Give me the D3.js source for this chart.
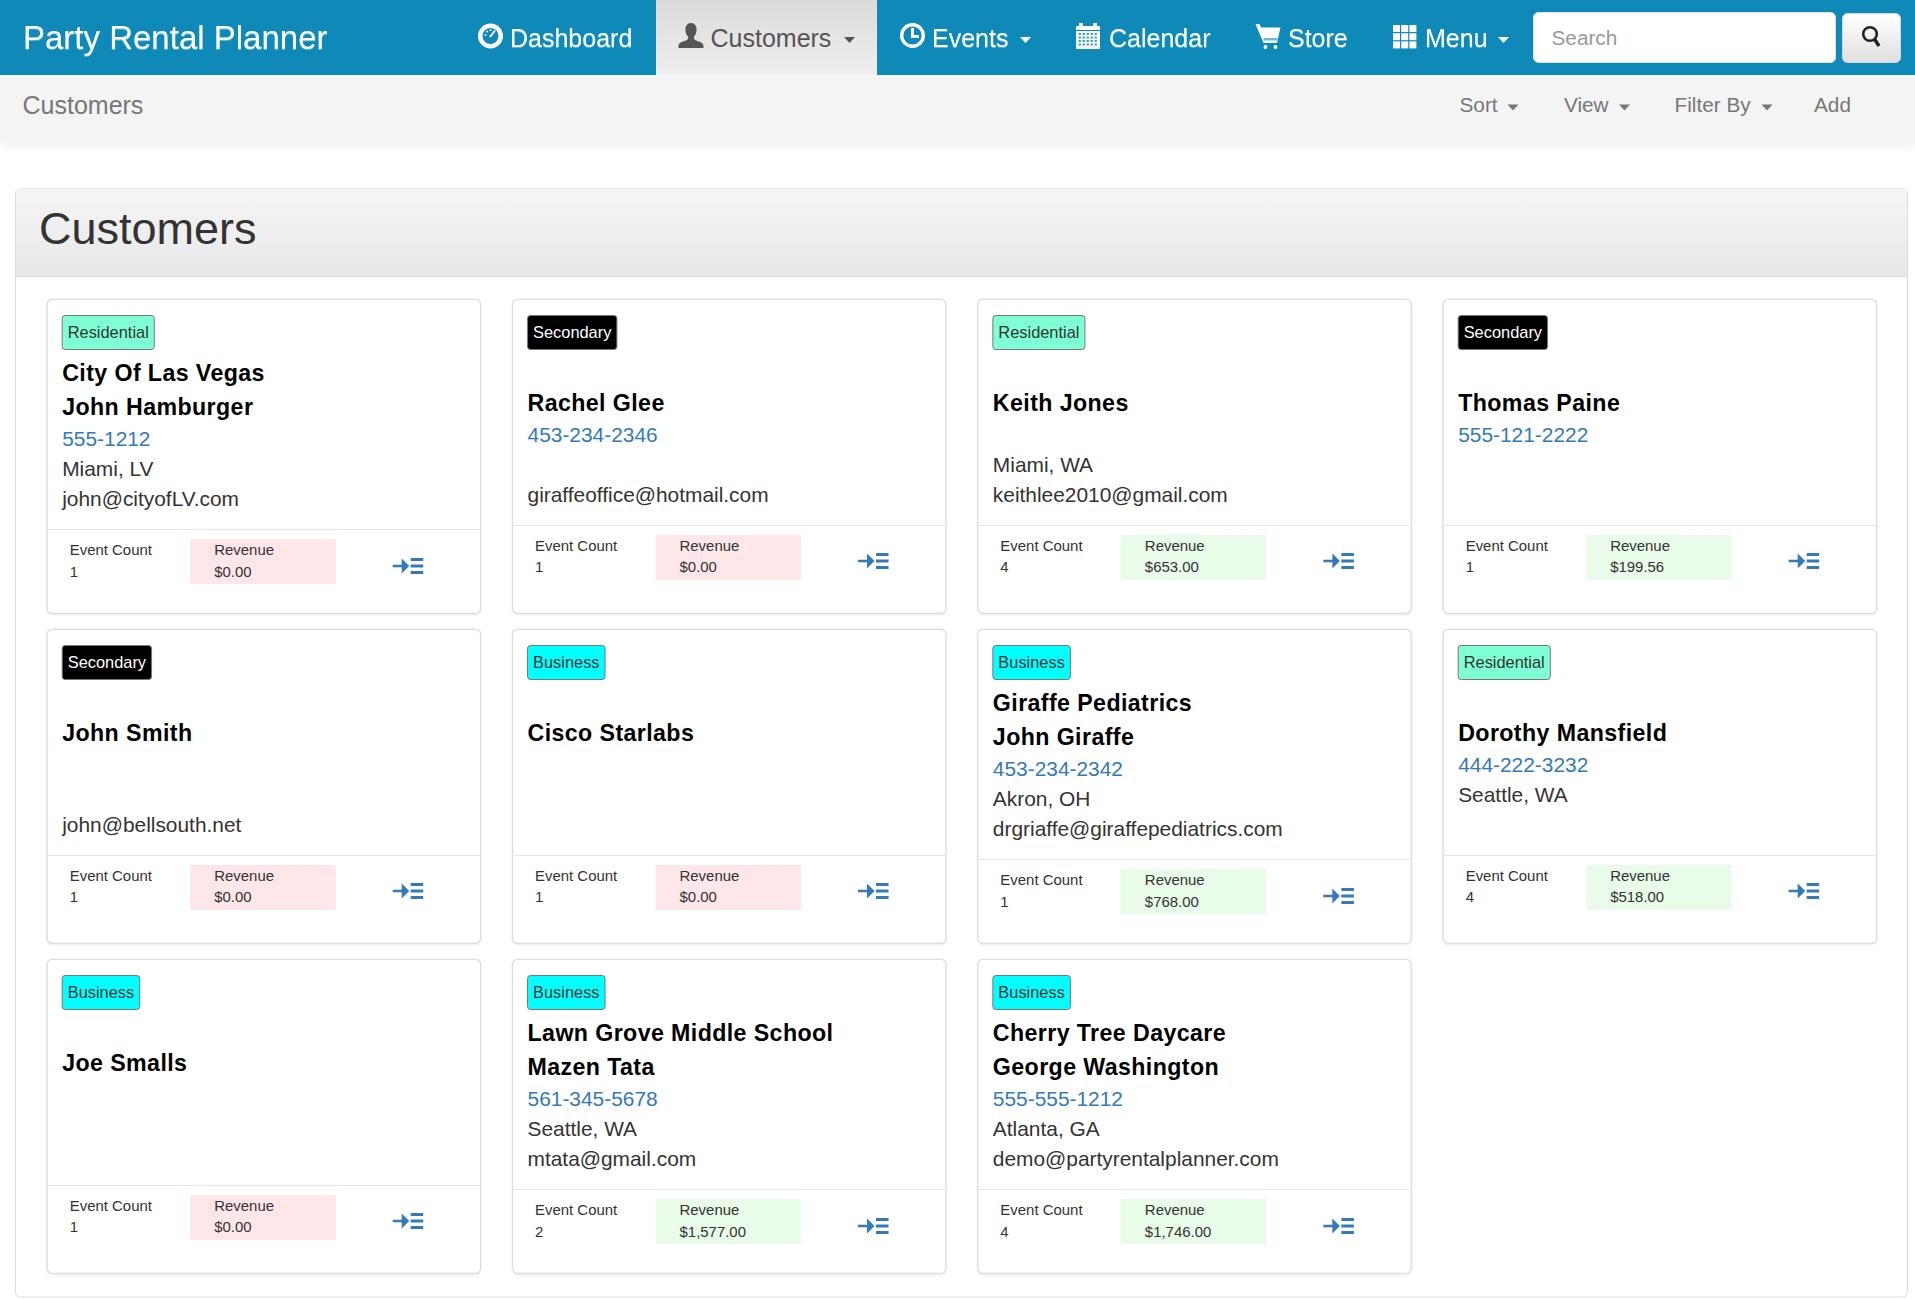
<!DOCTYPE html>
<html>
<head>
<meta charset="utf-8">
<title>Party Rental Planner</title>
<script src="https://cdn.jsdelivr.net/npm/d3@7"></script>
<style>
  html, body { margin: 0; padding: 0; background: #fff; overflow: hidden; }
  svg { display: block; font-family: "Liberation Sans", Arial, sans-serif; }
  .nav-text { filter: drop-shadow(0 1.2px 0 rgba(255,255,255,.35)); }
  .card-box { filter: drop-shadow(0 1px 1px rgba(0,0,0,.09)); }
</style>
</head>
<body>
<div id="page"></div>
<script>
// Customer data, one entry per card
const customerTypes = ['Residential', 'Secondary', 'Residential', 'Secondary', 'Secondary', 'Business', 'Business', 'Residential', 'Business', 'Business', 'Business'];
const companies = ['City Of Las Vegas', '', '', '', '', '', 'Giraffe Pediatrics', '', '', 'Lawn Grove Middle School', 'Cherry Tree Daycare'];
const contacts = ['John Hamburger', 'Rachel Glee', 'Keith Jones', 'Thomas Paine', 'John Smith', 'Cisco Starlabs', 'John Giraffe', 'Dorothy Mansfield', 'Joe Smalls', 'Mazen Tata', 'George Washington'];
const phones = ['555-1212', '453-234-2346', '', '555-121-2222', '', '', '453-234-2342', '444-222-3232', '', '561-345-5678', '555-555-1212'];
const cities = ['Miami, LV', '', 'Miami, WA', '', '', '', 'Akron, OH', 'Seattle, WA', '', 'Seattle, WA', 'Atlanta, GA'];
const emails = ['john@cityofLV.com', 'giraffeoffice@hotmail.com', 'keithlee2010@gmail.com', '', 'john@bellsouth.net', '', 'drgriaffe@giraffepediatrics.com', '', '', 'mtata@gmail.com', 'demo@partyrentalplanner.com'];
const eventCounts = [1, 1, 4, 1, 1, 1, 1, 4, 1, 2, 4];
const revenues = [0, 0, 653, 199.56, 0, 0, 768, 518, 0, 1577, 1746];

const navItems = ['Dashboard', 'Customers', 'Events', 'Calendar', 'Store', 'Menu'];
const subNavItems = ['Sort', 'View', 'Filter By', 'Add'];

const PAGE = { width: 1915, height: 1300 };
const COLS = 4;
const ROWS = 3;
const NAV_BLUE = '#0f8ab8';
const typeColor = { Residential: '#7fffd4', Secondary: '#000', Business: '#00ffff' };

const svg = d3.select('#page').append('svg')
  .attr('width', PAGE.width)
  .attr('height', PAGE.height);

const defs = svg.append('defs');

function addGradient(id, from, to) {
  const g = defs.append('linearGradient').attr('id', id)
    .attr('x1', 0).attr('y1', 0).attr('x2', 0).attr('y2', 1);
  g.append('stop').attr('offset', 0).attr('stop-color', from);
  g.append('stop').attr('offset', 1).attr('stop-color', to);
}
addGradient('headGrad', '#f5f5f5', '#e8e8e8');
addGradient('activeGrad', '#dbdbdb', '#efefef');
addGradient('btnGrad', '#ffffff', '#e0e0e0');

function caret(parent, x, y, color) {
  parent.append('path')
    .attr('d', `M${x},${y}h11l-5.5,6z`)
    .attr('fill', color);
}

// Nav icons, each drawn in a local box starting at (0,0)
const navIcons = {
  Dashboard(g) {
    g.append('circle').attr('cx', 12.5).attr('cy', 13).attr('r', 12.5).attr('fill', '#fff');
    g.append('circle').attr('cx', 12.5).attr('cy', 13).attr('r', 8).attr('fill', NAV_BLUE);
    [[7.5, 12], [9, 8.5], [12.5, 7]].forEach(d => {
      g.append('circle').attr('cx', d[0]).attr('cy', d[1]).attr('r', 1.1).attr('fill', '#cfeaf4');
    });
    g.append('path').attr('d', 'M12,14L17,7.500').attr('stroke', '#fff').attr('stroke-width', 2);
  },
  Customers(g) {
    g.append('path')
      .attr('d', 'M12.5,0c3.8,0 5.6,3 5.6,6.5c0,3.5-1.5,6-2.8,7.5c0,2.2 1,3 3,3.7c3,1 6.7,2 6.7,5.3v2h-25v-2c0-3.3 3.7-4.3 6.7-5.3c2-.7 3-1.5 3-3.7c-1.3-1.5-2.8-4-2.8-7.5c0-3.5 1.800-6.500 5.600-6.500z')
      .attr('fill', '#555');
  },
  Events(g) {
    g.append('circle').attr('cx', 12.5).attr('cy', 12.5).attr('r', 10.8).attr('fill', 'none').attr('stroke', '#fff').attr('stroke-width', 3.4);
    g.append('path').attr('d', 'M12.5,5v8.500h6.500').attr('fill', 'none').attr('stroke', '#fff').attr('stroke-width', 3);
  },
  Calendar(g) {
    g.append('rect').attr('x', 0).attr('y', 3).attr('width', 24).attr('height', 23).attr('fill', '#fff');
    g.append('rect').attr('x', 3).attr('y', 0).attr('width', 4).attr('height', 5).attr('fill', '#fff');
    g.append('rect').attr('x', 17).attr('y', 0).attr('width', 4).attr('height', 5).attr('fill', '#fff');
    g.append('rect').attr('x', 0).attr('y', 7).attr('width', 24).attr('height', 1).attr('fill', NAV_BLUE);
    d3.range(4).forEach(r => d3.range(5).forEach(c => {
      g.append('rect').attr('x', 2.5 + c * 4).attr('y', 10 + r * 3.5).attr('width', 2.4).attr('height', 2)
        .attr('fill', NAV_BLUE).attr('opacity', .8);
    }));
  },
  Store(g) {
    g.append('path').attr('d', 'M0,1h4l1.500,3.500h19.500l-3.500,15.500h-13.500z').attr('fill', '#fff');
    g.append('rect').attr('x', 8).attr('y', 15).attr('width', 14).attr('height', 2.500).attr('fill', NAV_BLUE).attr('opacity', .6);
    g.append('circle').attr('cx', 10).attr('cy', 24).attr('r', 1.900).attr('fill', '#fff');
    g.append('circle').attr('cx', 20).attr('cy', 24).attr('r', 1.900).attr('fill', '#fff');
  },
  Menu(g) {
    d3.range(3).forEach(r => d3.range(3).forEach(c => {
      g.append('rect').attr('x', 1 + c * 8.2).attr('y', 2 + r * 8.2).attr('width', 7).attr('height', 7).attr('fill', '#fff');
    }));
  },
};

function drawNavbar() {
  svg.append('rect').attr('x', 0).attr('y', 75).attr('width', PAGE.width).attr('height', 68)
    .attr('fill', '#f4f4f4')
    .style('filter', 'drop-shadow(0 3px 4px rgba(0,0,0,.06))');
  svg.append('rect').attr('width', PAGE.width).attr('height', 75).attr('fill', NAV_BLUE);

  svg.append('text').attr('class', 'nav-text')
    .attr('x', 23).attr('y', 48.500)
    .attr('font-size', 33).attr('fill', '#fff')
    .text('Party Rental Planner');

  // active tab
  svg.append('rect').attr('x', 656).attr('y', 0).attr('width', 221).attr('height', 75)
    .attr('fill', 'url(#activeGrad)');

  const iconX = [478, 678.5, 900, 1076, 1255.5, 1392];
  const textX = [510, 710.5, 932, 1109, 1288, 1425];
  const caretX = [null, 844, 1020, null, null, 1498];

  navItems.forEach((name, i) => {
    const color = name === 'Customers' ? '#555' : '#fff';
    const icon = svg.append('g').attr('transform', `translate(${iconX[i]},23)`);
    navIcons[name](icon);
    svg.append('text').attr('class', name === 'Customers' ? null : 'nav-text')
      .attr('x', textX[i]).attr('y', 47)
      .attr('font-size', 25).attr('fill', color)
      .text(name);
    if (caretX[i] !== null) caret(svg, caretX[i], 37, color);
  });

  // search box
  svg.append('rect').attr('x', 1533.5).attr('y', 12.500).attr('width', 302).attr('height', 50)
    .attr('rx', 5).attr('fill', '#fff').attr('stroke', '#d8e6ec');
  svg.append('text').attr('x', 1551.5).attr('y', 45)
    .attr('font-size', 20.75).attr('fill', '#999').text('Search');
  svg.append('rect').attr('x', 1842.5).attr('y', 13.500).attr('width', 58).attr('height', 49)
    .attr('rx', 5).attr('fill', 'url(#btnGrad)').attr('stroke', '#cfd8dc');
  const glass = svg.append('g').attr('transform', 'translate(1862,26)');
  glass.append('circle').attr('cx', 8).attr('cy', 8).attr('r', 6.800).attr('fill', 'none').attr('stroke', '#222').attr('stroke-width', 2.6);
  glass.append('path').attr('d', 'M12.500,13l4.500,7').attr('stroke', '#222').attr('stroke-width', 3.4);
}

function drawSubNav() {
  svg.append('text').attr('x', 22.5).attr('y', 114)
    .attr('font-size', 25).attr('fill', '#777').text('Customers');

  const itemX = [1459.5, 1564, 1674.5, 1814];
  const caretX = [1507.5, 1619, 1761.5, null];
  subNavItems.forEach((name, i) => {
    svg.append('text').attr('x', itemX[i]).attr('y', 112)
      .attr('font-size', 20.75).attr('fill', '#777').text(name);
    if (caretX[i] !== null) caret(svg, caretX[i], 104.500, '#777');
  });
}

function drawPanel() {
  svg.append('rect').attr('x', 15.500).attr('y', 188.500).attr('width', 1892).attr('height', 1108.500)
    .attr('rx', 5).attr('fill', '#fff').attr('stroke', '#ddd');
  svg.append('path')
    .attr('d', 'M16,276V193a4.500,4.500 0 0 1 4.500-4.500H1902.500a4.500,4.500 0 0 1 4.500,4.500V276z')
    .attr('fill', 'url(#headGrad)');
  svg.append('line').attr('x1', 16).attr('x2', 1907).attr('y1', 276.500).attr('y2', 276.500).attr('stroke', '#ddd');
  svg.append('text').attr('x', 39).attr('y', 243.500)
    .attr('font-size', 45).attr('fill', '#333').text('Customers');
}

function drawCards() {
  const x = d3.scaleBand().domain(d3.range(COLS)).range([46.7, 1876]).paddingInner(32 / 465.3);
  const y = d3.scaleBand().domain(d3.range(ROWS)).range([299, 1273]).paddingInner(16 / 330);
  const money = d3.format('$,.2f');

  const cards = svg.selectAll('.card')
    .data(contacts.map((name, i) => i))
    .join('g')
    .attr('class', 'card')
    .attr('transform', i => `translate(${x(i % COLS)},${y(Math.floor(i / COLS))})`);

  cards.each(function (i) {
    const card = d3.select(this);
    const w = x.bandwidth();
    const h = y.bandwidth();
    const tall = companies[i] !== '';
    const shift = tall ? 0 : -4;
    const valueY = tall ? 48 : 46.5;
    const iconY = tall ? 29 : 28;

    card.append('rect').attr('class', 'card-box')
      .attr('x', .5).attr('y', .3)
      .attr('width', w).attr('height', h).attr('rx', 5)
      .attr('fill', '#fff').attr('stroke', '#ddd').attr('stroke-width', 1.200);

    // type badge, sized from its label
    const type = customerTypes[i];
    const badge = card.append('rect')
      .attr('x', 15.500).attr('y', 16.500).attr('height', 34).attr('rx', 3)
      .attr('fill', typeColor[type]).attr('stroke', '#777');
    const label = card.append('text')
      .attr('x', 21).attr('y', 39.300)
      .attr('font-size', 16.4)
      .attr('fill', type === 'Secondary' ? '#fff' : '#333')
      .text(type);
    badge.attr('width', label.node().getComputedTextLength() + 11);

    if (tall) {
      card.append('text').attr('x', 15.500).attr('y', 81.700)
        .attr('font-size', 23.200).attr('font-weight', 'bold').attr('letter-spacing', .4).attr('fill', '#000')
        .text(companies[i]);
    }
    card.append('text').attr('x', 15.500).attr('y', 115.700 + shift)
      .attr('font-size', 23.200).attr('font-weight', 'bold').attr('letter-spacing', .4).attr('fill', '#000')
      .text(contacts[i]);

    card.append('text').attr('x', 15.500).attr('y', 147 + shift)
      .attr('font-size', 20.900).attr('fill', '#337ab7').text(phones[i]);
    card.append('text').attr('x', 15.500).attr('y', 177 + shift)
      .attr('font-size', 20.900).attr('fill', '#333').text(cities[i]);
    card.append('text').attr('x', 15.500).attr('y', 207 + shift)
      .attr('font-size', 20.900).attr('fill', '#333').text(emails[i]);

    // footer
    const foot = card.append('g').attr('transform', `translate(0,${230 + shift})`);
    foot.append('line').attr('x1', 0).attr('x2', w).attr('y1', .5).attr('y2', .5).attr('stroke', '#e7e7e7');
    foot.append('text').attr('x', 23).attr('y', 26).attr('font-size', 14.950).attr('fill', '#333').text('Event Count');
    foot.append('text').attr('x', 23).attr('y', valueY).attr('font-size', 14.950).attr('fill', '#333').text(eventCounts[i]);

    foot.append('rect').attr('x', 143.500).attr('y', 10).attr('width', 145.500).attr('height', 45)
      .attr('fill', revenues[i] > 0 ? '#e9fce9' : '#ffe6e8');
    foot.append('text').attr('x', 167.500).attr('y', 26).attr('font-size', 14.950).attr('fill', '#333').text('Revenue');
    foot.append('text').attr('x', 167.500).attr('y', valueY).attr('font-size', 14.950).attr('fill', '#333').text(money(revenues[i]));

    const icon = foot.append('g').attr('transform', `translate(346,${iconY})`).attr('fill', '#337ab7');
    icon.append('path').attr('d', 'M0,6.700h9v-6.200l7.500,7.500l-7.500,7.500v-6.200h-9z');
    [0, 6.500, 13].forEach(d => {
      icon.append('rect').attr('x', 18).attr('y', d).attr('width', 12.500).attr('height', 3);
    });
  });
}

function init() {
  drawNavbar();
  drawSubNav();
  drawPanel();
  drawCards();
}

init();
</script>
</body>
</html>
